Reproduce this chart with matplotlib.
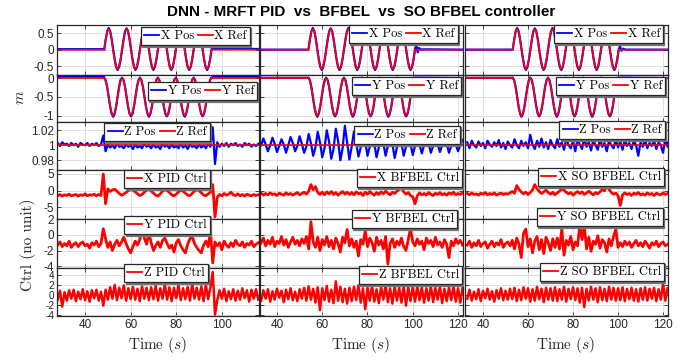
import numpy as np
import matplotlib
matplotlib.use('Agg')
import matplotlib.pyplot as plt
from matplotlib.ticker import FormatStrFormatter

plt.rcParams['mathtext.fontset'] = 'cm'
plt.rcParams['axes.unicode_minus'] = False
plt.rcParams['font.family'] = ['Liberation Sans', 'DejaVu Sans']

# ------------------------------------------------------------------ data
col_names = ['PID', 'BFBEL', 'SO BFBEL']
col_start = [28, 33, 33]            # first sample (s) of the noisy records
col_end = [116, 122, 122]
man_start = [48.4, 53.9, 53.2]      # start of the oscillating reference
man_dt = 0.654                      # sample step of the reference records

x_ref_man = [0, 0.31, 0.54, 0.62, 0.54, 0.31, 0, -0.29, -0.50, -0.58, -0.50, -0.29,
             0, 0.31, 0.54, 0.62, 0.54, 0.31, 0, -0.29, -0.50, -0.58, -0.50, -0.29,
             0, 0.31, 0.54, 0.62, 0.54, 0.31, 0, -0.29, -0.50, -0.58, -0.50, -0.29,
             0, 0.31, 0.54, 0.62, 0.54, 0.31, 0, -0.29, -0.50, -0.58, -0.50, -0.29,
             0, 0.31, 0.54, 0.62, 0.54, 0.31, 0, -0.29, -0.50, -0.58, -0.50, -0.29,
             0, 0.31, 0.54, 0.62, 0.54, 0.31, 0, -0.29, -0.50, -0.58, -0.50, -0.29, 0]
x_pos_man = [0, 0.30, 0.55, 0.65, 0.56, 0.32, 0.01, -0.29, -0.52, -0.61, -0.52, -0.30,
             0, 0.30, 0.55, 0.64, 0.56, 0.32, 0.01, -0.29, -0.52, -0.61, -0.52, -0.30,
             0, 0.30, 0.55, 0.65, 0.56, 0.32, 0.01, -0.29, -0.52, -0.61, -0.52, -0.30,
             0, 0.30, 0.55, 0.64, 0.56, 0.32, 0.01, -0.29, -0.52, -0.61, -0.52, -0.30,
             0, 0.30, 0.55, 0.65, 0.56, 0.32, 0.01, -0.29, -0.52, -0.61, -0.52, -0.30,
             0, 0.30, 0.55, 0.64, 0.56, 0.32, 0.01, -0.29, -0.52, -0.61, -0.52, -0.30, 0]
y_ref_man = [0, -0.07, -0.25, -0.50, -0.75, -0.93, -1.00, -0.93, -0.75, -0.50, -0.25, -0.07,
             0, -0.07, -0.25, -0.50, -0.75, -0.93, -1.00, -0.93, -0.75, -0.50, -0.25, -0.07,
             0, -0.07, -0.25, -0.50, -0.75, -0.93, -1.00, -0.93, -0.75, -0.50, -0.25, -0.07,
             0, -0.07, -0.25, -0.50, -0.75, -0.93, -1.00, -0.93, -0.75, -0.50, -0.25, -0.07,
             0, -0.07, -0.25, -0.50, -0.75, -0.93, -1.00, -0.93, -0.75, -0.50, -0.25, -0.07,
             0, -0.07, -0.25, -0.50, -0.75, -0.93, -1.00, -0.93, -0.75, -0.50, -0.25, -0.07, 0]
y_pos_man = [0.01, -0.06, -0.24, -0.50, -0.76, -0.95, -1.03, -0.95, -0.76, -0.49, -0.23, -0.05,
             0.01, -0.06, -0.24, -0.50, -0.76, -0.95, -1.02, -0.95, -0.76, -0.49, -0.23, -0.05,
             0.01, -0.06, -0.24, -0.50, -0.76, -0.95, -1.03, -0.95, -0.76, -0.49, -0.23, -0.05,
             0.01, -0.06, -0.24, -0.50, -0.76, -0.95, -1.02, -0.95, -0.76, -0.49, -0.23, -0.05,
             0.01, -0.06, -0.24, -0.50, -0.76, -0.95, -1.03, -0.95, -0.76, -0.49, -0.23, -0.05,
             0.01, -0.06, -0.24, -0.50, -0.76, -0.95, -1.02, -0.95, -0.76, -0.49, -0.23, -0.05, 0.01]

# position before / after the manoeuvre (keypoints)
x_pos_pre = [0.015, 0.0, 0.0]
y_pos_pre = [0.03, 0.005, 0.005]
x_post_t = [[95.49, 96.0, 96.7, 97.5, 99, 102, 106, 116],
            [100.99, 101.6, 102.2, 102.8, 103.6, 105, 122],
            [100.29, 100.9, 101.5, 102.3, 103.3, 122]]
x_post_v = [[0.0, 0.08, 0.03, 0.05, 0.03, 0.02, 0.025, 0.02],
            [0.0, 0.15, -0.08, 0.05, 0.0, 0.01, 0.0],
            [0.0, 0.10, -0.03, 0.03, 0.0, 0.0]]
y_post_t = [[95.49, 96.5, 98, 116], [100.99, 102, 122], [100.29, 101.5, 122]]
y_post_v = [[0.0, 0.04, 0.03, 0.03], [0.0, 0.01, 0.0], [0.0, 0.01, 0.0]]
z_ref = [1.0, 1.0, 1.0]

# 1 s samples
z_pos = [
    [1.003, 0.999, 1.004, 1.001, 1.002, 0.999, 1.003, 1.000, 1.002, 0.998, 1.003, 1.001, 1.000, 1.003, 0.999, 1.002, 1.000, 1.003, 0.999, 1.001,
     1.013, 0.992,
     1.001, 0.997, 1.000, 0.996, 1.002, 0.998, 0.999, 0.996, 1.001, 0.998, 1.000, 0.995, 1.001, 0.997, 0.999, 0.996, 1.002, 0.998, 1.000, 0.996,
     1.001, 0.997, 0.999, 0.995, 1.002, 0.998, 1.000, 0.996, 1.001, 0.997, 0.999, 0.996, 1.002, 0.997, 1.000, 0.995, 1.001, 0.998, 0.999, 0.996,
     1.001, 0.997, 1.000, 0.996, 1.002, 0.998,
     1.024, 0.975,
     1.004, 0.998, 1.002, 0.999, 1.003, 0.998, 1.002, 1.000, 1.003, 0.999, 1.001, 0.998, 1.003, 1.000, 1.002, 0.998, 1.001, 0.999, 1.002],
    [1.000, 1.009, 1.001, 0.992, 1.000, 1.010, 1.002, 0.991, 0.999, 1.008, 1.001, 0.990, 1.000, 1.011, 1.003, 0.992, 0.999, 1.012,
     1.002, 0.990, 0.998, 1.015, 1.003, 0.986, 0.997, 1.018, 1.004, 0.984, 0.996, 1.020, 1.005, 0.982, 0.995, 1.022, 1.006, 0.980, 0.996, 1.026, 1.004, 0.981,
     0.998, 1.018, 1.003, 0.985, 0.997, 1.016, 1.004, 0.986, 0.998, 1.015, 1.002, 0.984, 0.997, 1.016, 1.003, 0.986, 0.999, 1.014, 1.002, 0.983, 0.997, 1.013, 1.003, 0.986, 0.998, 1.012, 1.002, 0.987,
     0.999, 1.011, 1.001, 0.989, 1.000, 1.010, 1.002, 0.990, 0.999, 1.009, 1.001, 0.991, 1.000, 1.010, 1.002, 0.990, 0.999, 1.008, 1.001, 0.992, 1.000, 1.007],
    [1.004, 0.996, 1.006, 1.000, 0.997, 1.005, 0.999, 1.003, 0.996, 1.006, 1.001, 0.998, 1.004, 0.999, 1.007, 0.997, 1.003, 0.995,
     1.005, 1.000, 0.997, 1.008, 1.000, 0.996, 1.006, 0.999, 1.004, 0.996, 1.014, 1.001, 0.995, 1.006, 0.998, 1.009, 0.997, 1.004, 0.995, 1.007, 1.000, 0.996,
     1.008, 0.998, 1.004, 0.994, 1.009, 1.000, 0.996, 1.006, 0.992, 1.008, 1.001, 0.995, 1.010, 0.998, 1.004, 0.993, 1.007, 1.000, 0.994, 1.009, 0.998, 1.003, 0.992, 1.006, 1.000, 0.996, 1.008, 0.997,
     1.005, 0.994, 1.007, 0.999, 1.003, 0.995, 1.006, 1.000, 0.986, 1.004, 0.998, 1.007, 0.996, 1.003, 0.999, 1.006, 0.995, 1.004, 1.000, 0.990, 1.008, 0.998, 1.011, 0.992]]

x_ctrl = [
    [-1.6, -1.2, -1.7, -1.3, -1.5, -1.1, -1.6, -1.4, -1.2, -1.7, -1.3, -1.5, -1.0, -1.6, -1.3, -1.4, -1.1, -1.6, -1.2, -1.5,
     5.0, -4.0,
     0.5, -0.3, 0.2, 0.4, -0.2, -0.9, -1.4, -1.1, -0.6, 0.0, 0.3, 0.1, -0.4, -1.0, -1.5, -1.2, -0.5, 0.1, 0.4, -0.1,
     -0.8, -1.4, -1.7, -1.0, -0.2, 0.3, 0.0, -0.6, -1.3, -1.6, -1.1, -0.4, 0.1, -0.2, -0.8, -1.4, -1.5, -0.9, -0.2, 0.3,
     0.0, -0.7, -1.3, -1.6, -1.0, -0.5,
     1.8, -8.0,
     -2.0, -1.2, -1.6, -0.9, -1.4, -1.1, -0.5, -1.3, -1.5, -1.0, -1.6, -1.2, -1.7, -1.1, -1.4, -1.6, -1.2, -1.5, -1.3],
    [-0.8, -1.4, -0.9, -1.3, -0.7, -1.2, -1.0, -1.5, -0.8, -1.1, -1.4, -0.7, -1.2, -0.9, -1.4, -1.0, -0.6, -1.3,
     -0.9, -0.5, -1.1, -0.2, 1.8, 0.2, 1.2, -0.6, -1.2, -0.5, -1.3, -0.4, -1.0, -0.3, -1.2, -0.6, -1.4, -0.8, -0.3, -1.1, -0.5, -1.2,
     -0.6, -1.3, -0.4, -1.0, -0.7, -1.5, -0.5, -1.1, -0.3, -0.9, -1.4, -0.6, -1.2, -0.4, -1.0, -0.2, -0.8, -1.3, -0.5, -0.9, -0.2, 0.3, 1.0, -0.4, -1.1, -0.6, -1.5, -1.9,
     -4.0, -1.6, -0.7, -1.3, -0.9, -1.4, -0.6, -1.1, -1.5, -0.8, -1.2, -0.6, -1.3, -0.9, -1.4, -0.7, -1.1, -0.5, -1.3, -0.9, -1.2, -0.7],
    [-0.9, -1.3, -0.7, -1.2, -1.0, -1.4, -0.8, -1.1, -0.6, -1.3, -0.9, -1.2, -0.7, -1.4, -1.0, -0.8, -1.2, -0.9,
     -1.1, -0.7, -0.3, -0.8, 1.5, 0.3, -0.4, -1.0, -0.5, -1.2, -0.6, 0.2, 1.8, 0.6, -0.3, -0.9, -0.4, 0.1, -0.6, -1.1, -0.5, -1.3,
     -0.7, -0.2, 0.5, 0.1, -0.5, -1.0, -0.6, -1.4, -0.8, -0.3, -0.9, -0.4, -1.2, -0.7, -0.2, -0.8, -1.3, -0.6, -1.0, -0.4, 0.3, -0.1, 1.5, 0.4, -0.6, -1.1, -0.8, -1.6,
     -4.5, -1.3, -0.7, -1.2, -0.9, -1.5, -0.8, -1.1, -0.6, -1.3, -1.0, -1.4, -0.7, -1.2, -0.9, -1.5, -0.8, -1.1, -1.3, -0.7, -1.2, -0.9]]

y_ctrl = [
    [-1.3, -0.9, -1.5, -1.1, -1.4, -0.8, -1.6, -1.2, -1.0, -1.5, -1.1, -0.9, -1.4, -1.2, -1.7, -1.0, -1.3, -0.8, -1.5, -1.1,
     0.8, -0.5,
     -1.6, -0.9, -2.0, -1.2, -0.7, -1.4, -0.9, -0.3, -1.1, -1.8, -2.3, -1.5, -0.8, -1.3, -0.6, 0.9, -0.4, -1.2, 0.3, -1.0,
     -2.0, -1.4, -0.9, -1.6, -0.7, -0.4, -1.1, -1.7, -1.3, -2.2, -1.0, -0.6, -1.4, -1.9, -2.3, -1.2, -0.5, -0.2, -1.1, -1.6,
     -2.0, -2.3, -1.3, -0.8, -1.5, 0.6,
     -3.6,
     -0.9, -1.4, -1.0, -1.9, -0.8, -1.3, -1.6, -1.0, -1.5, -0.7, -1.2, -1.4, -0.9, -1.6, -1.1, -1.3, -0.8, -1.5, -1.2, -1.0],
    [-1.0, -0.4, -1.4, -0.7, -1.2, -0.3, -1.5, -0.8, -1.1, -0.2, -1.3, -0.6, -1.6, -0.9, -0.3, -1.2, -0.7, -1.4,
     -0.5, -1.1, -0.2, -1.8, 1.7, -0.9, -1.6, -0.3, -2.0, -0.6, -1.3, -0.2, -1.5, -0.7, -1.8, -0.4, -1.1, -2.2, -0.3, -1.0, 0.7, -1.4,
     -0.5, -1.6, -0.8, -2.7, -0.6, -1.2, 0.5, -1.5, -0.4, -1.0, -2.1, -0.3, -1.3, -0.7, -1.8, -0.2, -3.75, -1.1, -0.5, -1.6, -0.8, -1.3, -0.4, -1.5, -2.0, -0.6, 0.8, -0.9,
     -1.4, -0.5, -1.2, -0.8, -1.9, -0.4, -1.1, -0.7, -1.5, -0.3, -1.3, -0.9, -1.6, -0.6, -1.2, -2.9, -0.8, -1.4, -0.5, -1.1, -0.7, -1.3],
    [-1.3, -0.8, -1.6, -1.0, -1.4, -0.7, -1.5, -1.1, -0.9, -1.7, -1.2, -0.8, -1.5, -1.0, -1.3, -0.6, -1.6, -1.1,
     -0.9, -1.4, -0.7, -1.8, -0.4, -1.2, -2.9, 0.2, 0.75, -1.5, -0.5, -2.3, -0.8, -0.2, -1.9, -0.6, -2.4, -0.3, -1.0, -2.0, -0.5, -1.6,
     -0.4, -1.8, 0.75, -2.6, -0.7, -1.3, -0.2, -1.9, -0.9, -1.4, 1.2, -0.6, 1.2, -1.8, -0.3, -2.1, -0.8, -1.2, -0.1, -1.7, -0.6, -1.0, -2.2, -0.5, -1.4, -0.2, 0.75, -1.6,
     -1.0, -1.5, -0.8, -1.3, -0.9, -1.6, -1.1, -0.7, -1.4, -1.0, -1.5, -0.8, -1.2, -1.7, -1.0, -1.3, -0.8, -1.5, -1.1, -0.9, -1.4, -1.2]]

z_ctrl = [
    [-1.0, 0.8, -2.4, 0.5, -1.2, 0.9, -0.8, 1.0, -1.3, 0.6, -0.9, 1.1, -1.1, 0.7, -1.4, 0.9, -0.7, 1.0, -1.2, 0.6,
     -2.2, 1.0, -1.0, 1.5, -0.8, 2.0, -1.1, 1.4, -0.7, 1.9, -1.2, 1.3, -0.9, 1.6, -1.0, 1.2, -1.3, 1.7, -0.8, 1.4, -1.1, 1.5, -0.9, 1.8,
     -1.2, 1.3, -0.8, 2.1, -1.0, 1.5, -1.3, 1.4, -0.7, 1.9, -1.1, 1.3, -0.9, 1.6, -1.2, 2.2, -0.8, 1.4, -1.0, 1.7, -1.3, 2.0, -0.9, 1.5,
     4.6, -4.0,
     -1.1, 0.9, -0.8, 1.2, -1.3, 0.7, -0.9, 1.1, -1.2, 0.8, -1.0, 1.3, -0.7, 0.9, -1.4, 1.0, -0.8, 1.1, -1.0],
    [-1.2, 0.9, -0.8, 1.1, -1.4, 0.7, -1.0, 1.2, -0.6, 0.8, -1.5, 1.0, -0.9, 1.3, -1.1, 0.6, -1.3, 1.1,
     -0.8, 1.4, -1.2, 1.7, -1.0, 1.2, -1.6, 1.5, -3.1, 1.3, -1.1, 1.8, -1.4, 1.0, -1.7, 2.7, -1.2, 1.6, -1.5, 1.2, -1.8, 1.4,
     -1.3, 1.6, -1.1, 1.9, -1.6, 1.3, -2.9, 1.5, -1.2, 1.8, -1.4, 1.1, -1.7, 1.6, -1.0, 1.9, -1.5, 1.3, -1.8, 1.7, -1.2, 1.4, -1.6, 1.8, -2.2, 1.5, -1.3, 1.6,
     -1.4, 1.7, -1.1, 1.5, -1.6, 1.3, -1.2, 1.8, -1.5, 1.4, -1.0, 1.6, -1.7, 1.2, -1.3, 1.5, -1.1, 1.7, -1.4, 1.3, -1.6, 1.4],
    [-0.8, 1.0, -1.2, 0.6, -0.9, 1.1, -1.3, 0.8, -0.7, 1.2, -1.0, 0.7, -1.4, 0.9, -0.8, 1.3, -1.1, 0.8,
     -1.0, 1.2, -0.9, 1.4, -1.3, 1.0, -1.1, 1.5, -0.8, 1.3, -1.4, 1.1, -1.2, 1.6, -0.9, 1.2, -1.5, 1.4, -1.0, 1.3, -1.2, 1.5,
     -1.3, 1.1, -1.0, 1.6, -1.4, 1.2, -0.9, 1.5, -1.1, 1.3, -1.6, 1.4, -2.5, 1.2, -1.2, 1.6, -1.0, 1.3, -1.5, 1.5, -1.1, 1.2, -1.3, 1.6, -1.0, 1.4, -1.2, 1.3,
     -1.1, 1.5, -1.3, 1.2, -0.9, 1.4, -1.2, 1.1, -1.4, 1.3, -1.0, 1.5, -1.2, 1.2, -0.8, 1.4, -1.3, 1.1, -1.0, 2.3, -1.2, 1.3]]

# ------------------------------------------------------------------ layout
W, H = 695, 361
fig = plt.figure(figsize=(W / 100, H / 100), dpi=100)

col_left = [57, 260, 465]
col_width = [202, 203, 203]
row_edges = [25, 75, 122, 170, 219, 268, 316]
xlims = [(27.7, 116.3), (32.5, 122.2), (32.0, 122.2)]
xticks = [[40, 60, 80, 100], [40, 60, 80, 100, 120], [40, 60, 80, 100, 120]]
ylims = [(-0.76, 0.74), (-1.17, 0.08), (0.967, 1.031), (-8.6, 6.2), (-4.25, 2.05), (-4.3, 5.4)]
yticks = [[-0.5, 0, 0.5], [-1, -0.5, 0], [0.98, 1, 1.02], [-5, 0, 5], [-4, -2, 0, 2], [-4, -2, 0, 2, 4]]
ylabsize = [8.5, 8.5, 8.5, 8.5, 8.5, 7.2]

leg_anchor = [
    [(250, 27), (458, 25), (663, 25)],
    [(257, 82), (461, 77), (665, 77)],
    [(210, 123), (460, 126), (665, 121)],
    [(210, 170), (462, 169), (664, 168)],
    [(210, 216), (457, 210), (663, 208)],
    [(208, 264), (462, 266), (664, 263)],
]

SERIF = 'cmr10'
BLUE = (0, 0, 1)
RED = (1, 0, 0)


def style(ax, r, c):
    ax.set_xlim(*xlims[c])
    ax.set_ylim(*ylims[r])
    ax.set_xticks(xticks[c])
    ax.set_yticks(yticks[r])
    ax.yaxis.set_major_formatter(FormatStrFormatter('%g'))
    ax.grid(True, color='0.86', lw=0.6)
    ax.set_axisbelow(True)
    ax.tick_params(direction='in', top=True, right=True, length=3, width=0.6,
                   labelsize=8.5, pad=2, colors='0.15', labelcolor='0.15')
    ax.tick_params(axis='y', labelsize=ylabsize[r])
    for s in ax.spines.values():
        s.set_linewidth(0.9)
        s.set_color('0.15')
    if r != 5:
        ax.tick_params(labelbottom=False)
    if c != 0:
        ax.tick_params(labelleft=False)


def legend(ax, r, c, handles, labels, ncol):
    x, y = leg_anchor[r][c]
    lg = ax.legend(handles, labels, ncol=ncol, loc='upper right',
                   bbox_to_anchor=(x / W, 1 - y / H), bbox_transform=fig.transFigure,
                   borderaxespad=0, prop={'family': SERIF, 'size': 9},
                   handlelength=1.2, handletextpad=0.15, columnspacing=0.3,
                   borderpad=0.25, labelspacing=0.2, fancybox=False,
                   framealpha=1, edgecolor='0.15',
                   shadow={'ox': 1.0, 'oy': -1.0, 'color': '0.45', 'alpha': 1.0})
    lg.get_frame().set_linewidth(0.9)
    for h in lg.legend_handles:
        h.set_linewidth(1.3)
    lg.set_zorder(10)


axes = {}
for r in range(6):
    for c in range(3):
        y0 = row_edges[r + 1]
        h = row_edges[r + 1] - row_edges[r]
        ax = fig.add_axes([col_left[c] / W, 1 - y0 / H, col_width[c] / W, h / H])
        axes[(r, c)] = ax
        style(ax, r, c)

ctrl_lw = {3: 2.0, 4: 2.0, 5: 1.8}

for c in range(3):
    t_man = man_start[c] + np.arange(len(x_ref_man)) * man_dt
    t_s, t_e = col_start[c], col_end[c]

    # X position / reference
    ax = axes[(0, c)]
    tx_pos = np.concatenate([[t_s, man_start[c]], t_man, x_post_t[c]])
    vx_pos = np.concatenate([[x_pos_pre[c], x_pos_pre[c]], x_pos_man, x_post_v[c]])
    tx_ref = np.concatenate([[t_s], t_man, [t_e]])
    vx_ref = np.concatenate([[0], x_ref_man, [0]])
    lp, = ax.plot(tx_pos, vx_pos, color=BLUE, lw=1.6)
    lr, = ax.plot(tx_ref, vx_ref, color=RED, lw=1.2)
    legend(ax, 0, c, [lp, lr], ['X Pos', 'X Ref'], 2)

    # Y position / reference
    ax = axes[(1, c)]
    ty_pos = np.concatenate([[t_s, man_start[c]], t_man, y_post_t[c]])
    vy_pos = np.concatenate([[y_pos_pre[c], y_pos_pre[c]], y_pos_man, y_post_v[c]])
    vy_ref = np.concatenate([[0], y_ref_man, [0]])
    lp, = ax.plot(ty_pos, vy_pos, color=BLUE, lw=1.6)
    lr, = ax.plot(tx_ref, vy_ref, color=RED, lw=1.2)
    legend(ax, 1, c, [lp, lr], ['Y Pos', 'Y Ref'], 2)

    # Z position / reference
    ax = axes[(2, c)]
    tz = col_start[c] + np.arange(len(z_pos[c]))
    lp, = ax.plot(tz, z_pos[c], color=BLUE, lw=1.6)
    lr, = ax.plot([t_s, t_e], [z_ref[c], z_ref[c]], color=RED, lw=1.2)
    legend(ax, 2, c, [lp, lr], ['Z Pos', 'Z Ref'], 2)

    # control signals
    for r, series, axn in [(3, x_ctrl, 'X'), (4, y_ctrl, 'Y'), (5, z_ctrl, 'Z')]:
        ax = axes[(r, c)]
        tc = col_start[c] + np.arange(len(series[c]))
        l, = ax.plot(tc, series[c], color=RED, lw=ctrl_lw[r])
        legend(ax, r, c, [l], ['%s %s Ctrl' % (axn, col_names[c])], 1)

# text
fig.text(361 / W, 1 - 12 / H, 'DNN - MRFT PID  vs  BFBEL  vs  SO BFBEL controller',
         ha='center', va='center', fontsize=11, fontweight='bold', color='black')
for c, xc in enumerate([158, 361, 566]):
    fig.text(xc / W, 1 - 345 / H, r'Time ($s$)', ha='center', va='center',
             family=SERIF, fontsize=11, color='0.15')
fig.text(20 / W, 1 - 97 / H, r'$m$', ha='center', va='center', rotation=90,
         fontsize=11, color='0.15')
fig.text(28 / W, 1 - 245 / H, 'Ctrl (no unit)', ha='center', va='center', rotation=90,
         family=SERIF, fontsize=11, color='0.15')

fig.savefig('out.png', dpi=100)
